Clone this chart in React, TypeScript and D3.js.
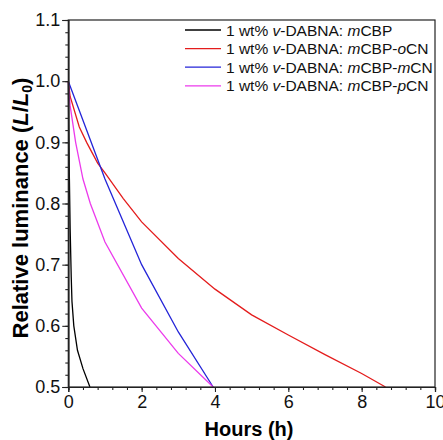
import * as d3 from 'd3';
import { useEffect, useRef } from 'react';

// hours and relative luminance (L/L0)
const hoursBlack = [0, 0.01, 0.03, 0.05, 0.08, 0.1, 0.15, 0.25, 0.4, 0.59];
const lumBlack = [1.0, 0.93, 0.84, 0.76, 0.68, 0.64, 0.6, 0.56, 0.53, 0.5];

const hoursRed = [0, 0.05, 0.3, 0.5, 0.8, 1, 1.5, 2, 3, 4, 5, 6, 7, 8, 8.65];
const lumRed = [1.0, 0.975, 0.925, 0.9, 0.866, 0.85, 0.808, 0.77, 0.71, 0.66, 0.618, 0.585, 0.553, 0.522, 0.5];

const hoursBlue = [0, 1, 2, 3, 3.95];
const lumBlue = [1.0, 0.84, 0.7, 0.59, 0.5];

const hoursMagenta = [0, 0.05, 0.2, 0.4, 0.6, 1, 2, 3, 3.95];
const lumMagenta = [1.0, 0.96, 0.9, 0.84, 0.8, 0.737, 0.629, 0.555, 0.5];

const hostNames = ['mCBP', 'mCBP-oCN', 'mCBP-mCN', 'mCBP-pCN'];
const colors = ['#000000', '#e41c1c', '#2424d8', '#ec3aec'];

const xTicks = [0, 2, 4, 6, 8, 10];
const yTicks = [0.5, 0.6, 0.7, 0.8, 0.9, 1.0, 1.1];

export default function App() {
  const ref = useRef<SVGSVGElement>(null);

  useEffect(() => {
    const svg = d3.select(ref.current);
    svg.selectAll('*').remove();

    const font = 'Arial, "Liberation Sans", sans-serif';
    const left = 68.3, right = 435, top = 20, bottom = 387;

    const x = d3.scaleLinear().domain([0, 10]).range([left, right]);
    const y = d3.scaleLinear().domain([0.5, 1.1]).range([bottom, top]);

    const series = [
      { h: hoursBlack, v: lumBlack },
      { h: hoursRed, v: lumRed },
      { h: hoursBlue, v: lumBlue },
      { h: hoursMagenta, v: lumMagenta },
    ];

    const line = d3.line<[number, number]>().x(d => x(d[0])).y(d => y(d[1]));

    const plot = svg.append('g');
    series.forEach((s, i) => {
      plot.append('path')
        .attr('d', line(s.h.map((h, j) => [h, s.v[j]] as [number, number])))
        .attr('fill', 'none')
        .attr('stroke', colors[i])
        .attr('stroke-width', 1.3);
    });

    // frame
    svg.append('rect')
      .attr('x', left).attr('y', top)
      .attr('width', right - left).attr('height', bottom - top)
      .attr('fill', 'none').attr('stroke', '#222').attr('stroke-width', 1.2);

    // x axis
    const xAxis = svg.append('g').attr('transform', `translate(0,${bottom})`);
    xAxis.call(d3.axisBottom(x).tickValues(d3.range(0, 10.01, 0.4)).tickSize(3).tickFormat(() => ''));
    xAxis.append('g').call(d3.axisBottom(x).tickValues(xTicks).tickSize(5).tickPadding(3).tickFormat(d3.format('d')));
    xAxis.selectAll('.domain').attr('stroke', '#222').attr('stroke-width', 1.2);
    xAxis.selectAll('line').attr('stroke', '#222').attr('stroke-width', 1.1);
    xAxis.selectAll('text').attr('font-family', font).attr('font-size', 18).attr('fill', '#111');

    // y axis
    const yAxis = svg.append('g').attr('transform', `translate(${left},0)`);
    yAxis.call(d3.axisLeft(y).tickValues(d3.range(0.5, 1.101, 0.02)).tickSize(3).tickFormat(() => ''));
    yAxis.append('g').call(d3.axisLeft(y).tickValues(yTicks).tickSize(6).tickPadding(2).tickFormat(d3.format('.1f')));
    yAxis.selectAll('.domain').attr('stroke', '#222').attr('stroke-width', 1.2);
    yAxis.selectAll('line').attr('stroke', '#222').attr('stroke-width', 1.1);
    yAxis.selectAll('text').attr('font-family', font).attr('font-size', 18).attr('fill', '#111');

    // axis titles
    svg.append('text')
      .attr('x', 249)
      .attr('y', 436)
      .attr('text-anchor', 'middle')
      .attr('font-family', font).attr('font-size', 20).attr('font-weight', 'bold')
      .text('Hours (h)');

    const yt = svg.append('text')
      .attr('transform', `translate(28,208) rotate(-90)`)
      .attr('text-anchor', 'middle')
      .attr('font-family', font).attr('font-size', 22).attr('font-weight', 'bold');
    yt.append('tspan').text('Relative luminance (');
    yt.append('tspan').attr('font-style', 'italic').text('L');
    yt.append('tspan').text('/');
    yt.append('tspan').attr('font-style', 'italic').text('L');
    yt.append('tspan').attr('font-size', 14).attr('dy', 4).text('0');
    yt.append('tspan').attr('dy', -4).text(')');

    // legend
    const legend = svg.append('g');
    hostNames.forEach((name, i) => {
      const ly = 30 + i * 18.6;
      legend.append('line')
        .attr('x1', 185).attr('x2', 221).attr('y1', ly).attr('y2', ly)
        .attr('stroke', colors[i]).attr('stroke-width', 1.3);
      const t = legend.append('text')
        .attr('x', 226).attr('y', ly + 5.5)
        .attr('font-family', font).attr('font-size', 15.5).attr('fill', '#111');
      t.append('tspan').text('1 wt% ');
      t.append('tspan').attr('font-style', 'italic').text('v');
      t.append('tspan').text('-DABNA: ');
      // italic letters inside the host name: leading m and the o/m/p before CN
      const m = name.match(/^m(CBP)(-)?([omp])?(CN)?$/);
      t.append('tspan').attr('font-style', 'italic').text('m');
      if (m) {
        t.append('tspan').text(m[1] + (m[2] || ''));
        if (m[3]) t.append('tspan').attr('font-style', 'italic').text(m[3]);
        if (m[4]) t.append('tspan').text(m[4]);
      }
    });
  }, []);

  return (
    <svg ref={ref} width={443} height={440}
      style={{ position: 'absolute', left: 0, top: 0, background: '#fff' }} />
  );
}
